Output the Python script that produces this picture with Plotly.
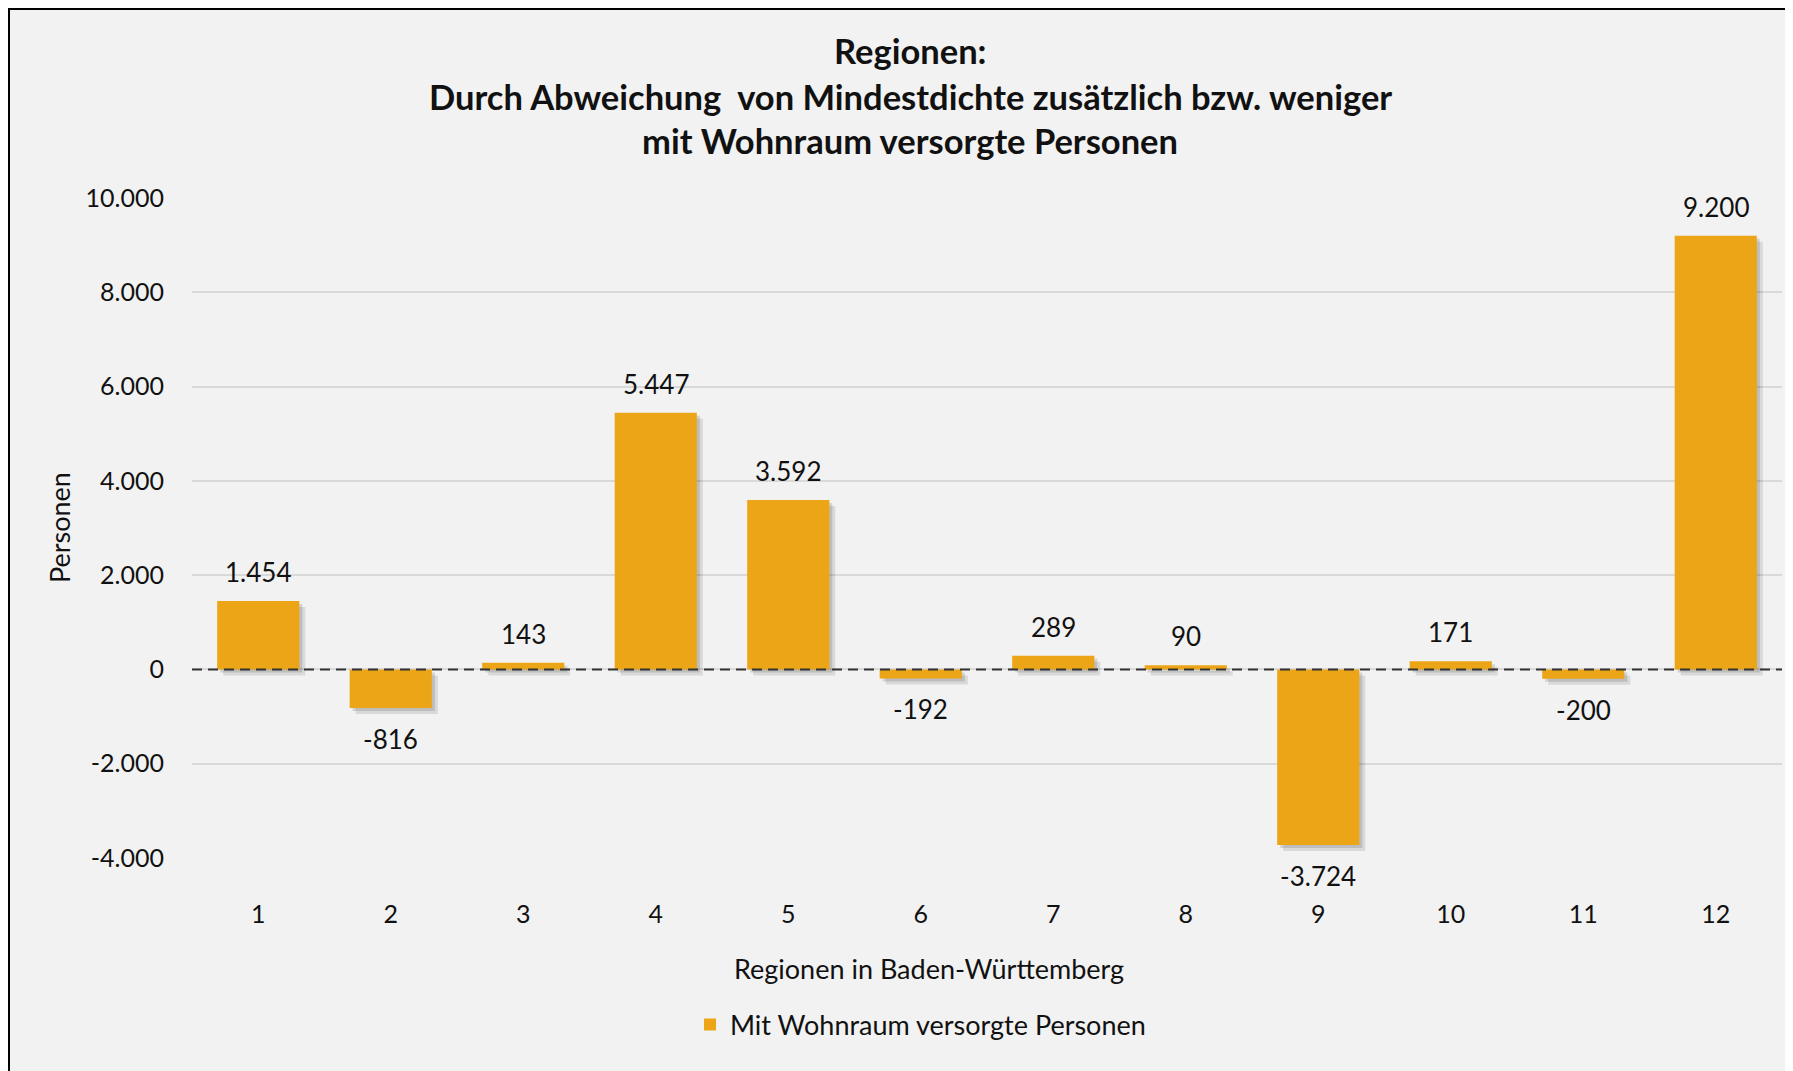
import plotly.graph_objects as go

# ---- data ----
regions = [1, 2, 3, 4, 5, 6, 7, 8, 9, 10, 11, 12]
region_labels = ["1", "2", "3", "4", "5", "6", "7", "8", "9", "10", "11", "12"]
persons = [1454, -816, 143, 5447, 3592, -192, 289, 90, -3724, 171, -200, 9200]
y_ticks = [-4000, -2000, 0, 2000, 4000, 6000, 8000, 10000]
series_name = "Mit Wohnraum versorgte Personen"
title_lines = [
    "Regionen:",
    "Durch Abweichung  von Mindestdichte zusätzlich bzw. weniger",
    "mit Wohnraum versorgte Personen",
]
x_title = "Regionen in Baden-Württemberg"
y_title = "Personen"


def de(v):
    return f"{v:,}".replace(",", ".")


# ---- layout geometry ----
# the page body adds an 8px margin; figure coordinates = screen - OFF
OFF = 8
W, H = 1793 - OFF, 1071 - OFF
PL, PR, PT, PB = 192, 1782, 198, 858          # plot area in screen px
ML, MR, MT, MB = PL - OFF, W - (PR - OFF), PT - OFF, H - (PB - OFF)
PW, PH = W - ML - MR, H - MT - MB


def px_x(p):   # screen px -> paper
    return (p - PL) / PW


def px_y(p):
    return (PB - p) / PH


FONT = "Lato, 'Open Sans', sans-serif"
BAR = "#ECA516"
TXT = "#111111"
yr = (-4000, 10000)
unit_px = PH / (yr[1] - yr[0])
cat_px = PW / len(regions)
bar_frac = 0.62

fig = go.Figure()

# soft drop shadow layers
for dx, a in [(6, 0.10), (3, 0.13)]:
    fig.add_trace(go.Bar(
        x=regions, y=persons, base=-dx / unit_px,
        width=bar_frac, offset=-bar_frac / 2 + dx / cat_px,
        marker=dict(color=f"rgba(0,0,0,{a})", line=dict(width=0)),
        showlegend=False, hoverinfo="skip",
    ))

fig.add_trace(go.Bar(
    x=regions, y=persons, name=series_name,
    width=bar_frac, offset=-bar_frac / 2,
    marker=dict(color=BAR, line=dict(width=0)),
))

annotations = []
for r, v in zip(regions, persons):
    annotations.append(dict(
        x=r, y=v, xref="x", yref="y", text=de(v), showarrow=False,
        yshift=29 if v >= 0 else -31, yanchor="middle",
        font=dict(family=FONT, size=26, color=TXT),
    ))

title_y = [50, 96, 141]
for t, yy in zip(title_lines, title_y):
    annotations.append(dict(
        x=px_x(910), y=px_y(yy), xref="paper", yref="paper", text=f"<b>{t}</b>",
        showarrow=False, xanchor="center", yanchor="middle",
        font=dict(family=FONT, size=34.5, color=TXT),
    ))

annotations.append(dict(
    x=px_x(929), y=px_y(968), xref="paper", yref="paper", text=x_title,
    showarrow=False, xanchor="center", yanchor="middle",
    font=dict(family=FONT, size=27, color=TXT),
))
annotations.append(dict(
    x=px_x(59), y=0.5, xref="paper", yref="paper", text=y_title, textangle=-90,
    showarrow=False, xanchor="center", yanchor="middle",
    font=dict(family=FONT, size=27, color=TXT),
))

shapes = [
    # chart frame (left/top edges sit at the page edge of the figure)
    dict(type="rect", xref="paper", yref="paper",
         x0=px_x(OFF + 0.5), x1=px_x(1793 + 30), y0=px_y(OFF + 0.5), y1=px_y(1071 + 30),
         fillcolor="#F2F2F2", line=dict(color="#000000", width=3), layer="below"),
    # dashed zero line
    dict(type="line", xref="paper", yref="y", x0=0, x1=1, y0=0, y1=0,
         line=dict(color="#333333", width=2, dash="10px,6px"), layer="above"),
]

fig.update_layout(
    width=W, height=H,
    margin=dict(l=ML, r=MR, t=MT, b=MB, pad=0),
    paper_bgcolor="#FFFFFF", plot_bgcolor="rgba(0,0,0,0)",
    barmode="overlay",
    font=dict(family=FONT, size=25, color=TXT),
    showlegend=True,
    legend=dict(
        orientation="h", x=px_x(690), y=px_y(1025), xanchor="left", yanchor="middle",
        bgcolor="rgba(0,0,0,0)", font=dict(family=FONT, size=27, color=TXT),
    ),
    annotations=annotations,
    shapes=shapes,
    xaxis=dict(
        range=[0.5, len(regions) + 0.5], tickvals=regions, ticktext=region_labels,
        showgrid=False, zeroline=False, showline=False,
        ticks="outside", ticklen=34, tickcolor="rgba(0,0,0,0)",
        tickfont=dict(family=FONT, size=25, color=TXT),
    ),
    yaxis=dict(
        range=list(yr), tickvals=y_ticks, ticktext=[de(v) for v in y_ticks],
        showgrid=True, gridcolor="#D9D9D9", gridwidth=1.5,
        zeroline=False, showline=False,
        ticks="outside", ticklen=22, tickcolor="rgba(0,0,0,0)",
        tickfont=dict(family=FONT, size=25, color=TXT),
    ),
)

fig.write_html("out.html")
